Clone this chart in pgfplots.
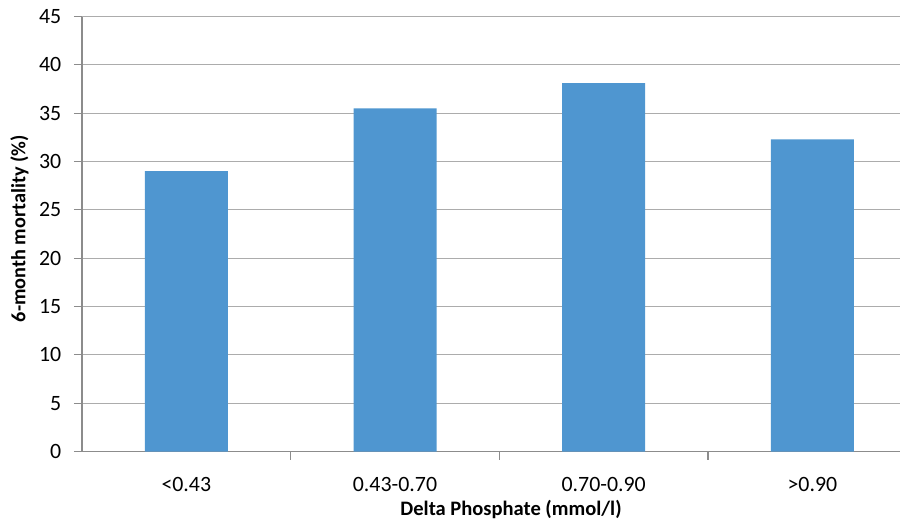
\documentclass[border=0pt]{standalone}
\usepackage{fontspec}
\setmainfont{Carlito}
\usepackage{pgfplots}
\pgfplotsset{compat=1.18}
\usetikzlibrary{calc}
\definecolor{barblue}{RGB}{79,150,208}
\definecolor{gridgray}{RGB}{172,172,172}
\definecolor{axisgray}{RGB}{140,140,140}
\begin{document}
\begin{tikzpicture}
\begin{axis}[
  scale only axis,
  width=613.5pt, height=326.25pt,
  xmin=-0.5, xmax=3.42, ymin=0, ymax=45,
  axis x line*=bottom, axis y line*=left,
  axis line style={axisgray, line width=0.8pt},
  ytick={0,5,...,45},
  ymajorgrids, grid style={gridgray, line width=0.8pt},
  tick align=outside, major tick length=6pt,
  tick style={axisgray, line width=0.8pt},
  xtick={0,1,2,3},
  xticklabels={<0.43, 0.43-0.70, 0.70-0.90, >0.90},
  xtick style={draw=none},
  extra x ticks={0.5,1.5,2.5},
  extra x tick labels={},
  extra x tick style={xtick style={draw=axisgray}, grid=none},
  /pgf/number format/assume math mode=true,
  ticklabel style={font=\fontsize{16.4}{19}\selectfont, text=black},
  yticklabel style={xshift=-6pt},
  xticklabel style={yshift=-9.5pt},
  xlabel={\textbf{Delta Phosphate (mmol/l)}},
  ylabel={\textbf{6-month mortality (\%)}},
  xlabel style={font=\fontsize{15.4}{18}\selectfont, text=black, at={(axis cs:1.556,0)}, anchor=center, yshift=-43.5pt},
  ylabel style={font=\fontsize{15.2}{18}\selectfont, text=black, at={(axis description cs:0,0.5)}, anchor=center, rotate=0, yshift=46.9pt, xshift=4pt},
  clip=false,
]
\addplot[ybar, bar width=62.25pt, fill=barblue, draw=none] coordinates {
  (0,29.0) (1,35.5) (2,38.1) (3,32.3)
};
\coordinate (sw) at (rel axis cs:0,0);
\coordinate (ne) at (rel axis cs:1,1);
\end{axis}
\pgfresetboundingbox
\path ($(sw)+(-61.5pt,-56.6pt)$) rectangle ($(ne)+(0,12.4pt)$);
\end{tikzpicture}
\end{document}
